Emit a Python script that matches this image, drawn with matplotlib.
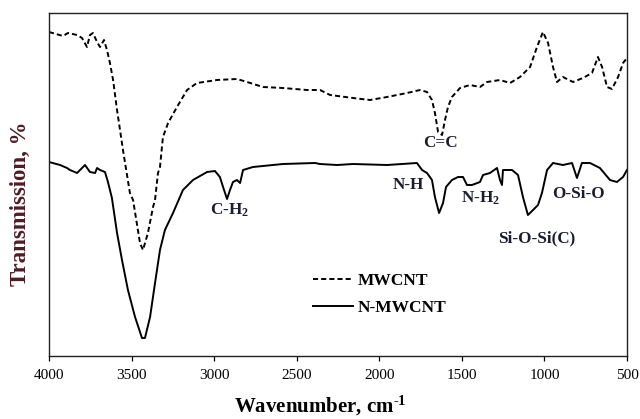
import matplotlib
matplotlib.use("Agg")
import matplotlib.pyplot as plt

plt.rcParams['font.family'] = ['Liberation Serif', 'DejaVu Serif']
plt.rcParams['mathtext.fontset'] = 'custom'
plt.rcParams['mathtext.rm'] = 'Liberation Serif:bold'
plt.rcParams['mathtext.it'] = 'Liberation Serif:bold'
plt.rcParams['mathtext.bf'] = 'Liberation Serif:bold'

# MWCNT spectrum (wavenumber, cm-1 ; transmission, arbitrary units)
mwcnt_wn = [4000, 3915, 3885, 3830, 3800, 3770, 3752, 3734, 3709, 3691, 3667, 3649,
            3631, 3612, 3588, 3552, 3510, 3491, 3449, 3431, 3401, 3370, 3358, 3340,
            3328, 3310, 3279, 3225, 3164, 3104, 2983, 2862, 2801, 2704, 2583, 2438,
            2377, 2359, 2298, 2159, 2056, 1953, 1832, 1753, 1711, 1681, 1663, 1644,
            1620, 1602, 1584, 1560, 1511, 1451, 1390, 1348, 1269, 1208, 1148, 1087,
            1045, 1009, 978, 948, 924, 888, 827, 767, 712, 676, 651, 621, 591, 554,
            524, 500]
mwcnt_t = [324, 320, 323, 321, 318, 309, 321, 323, 314, 309, 316, 306,
           293, 276, 246, 206, 163, 156, 113, 106, 123, 149, 156, 183,
           189, 219, 233, 249, 266, 273, 276, 277, 274, 269, 268, 266,
           266, 266, 261, 258, 256, 259, 263, 266, 264, 256, 243, 224,
           221, 236, 249, 259, 268, 271, 269, 274, 276, 273, 279, 289,
           309, 324, 313, 289, 274, 279, 274, 278, 283, 299, 289, 269, 267, 279,
           293, 298]

# N-MWCNT spectrum
nmwcnt_wn = [4000, 3933, 3891, 3873, 3830, 3794, 3782, 3752, 3721, 3709, 3691, 3661,
             3643, 3619, 3588, 3558, 3522, 3479, 3437, 3419, 3388, 3358, 3328, 3298,
             3249, 3189, 3128, 3043, 2995, 2965, 2946, 2922, 2904, 2886, 2862, 2843,
             2825, 2765, 2583, 2389, 2359, 2256, 2159, 1953, 1772, 1741, 1711, 1681,
             1663, 1638, 1614, 1596, 1560, 1523, 1493, 1469, 1439, 1390, 1372, 1330,
             1287, 1269, 1257, 1251, 1196, 1160, 1130, 1100, 1069, 1039, 1015, 984,
             948, 888, 833, 803, 773, 724, 664, 603, 561, 524, 500]
nmwcnt_t = [194, 191, 188, 186, 183, 189, 191, 184, 183, 188, 186, 184,
            174, 158, 123, 96, 66, 39, 18, 18, 39, 73, 106, 126,
            143, 166, 176, 184, 185, 179, 169, 157, 166, 174, 176, 173,
            186, 189, 192, 193, 192, 191, 192, 191, 193, 186, 183, 176,
            159, 143, 153, 169, 176, 179, 179, 171, 171, 174, 181, 183,
            188, 176, 171, 186, 186, 181, 159, 141, 146, 151, 163, 186,
            193, 191, 193, 178, 193, 193, 188, 176, 174, 179, 186]

series_names = ['MWCNT', 'N-MWCNT']
x_ticks = [4000, 3500, 3000, 2500, 2000, 1500, 1000, 500]

# band annotations: (text, wavenumber, height)
band_labels = ['C=C', 'C-H$_2$', 'N-H', 'N-H$_2$', 'Si-O-Si(C)', 'O-Si-O']
band_wn = [1632, 2904, 1826, 1384, 1045, 797]
band_t = [213, 146, 171, 158, 118, 162]

fig = plt.figure(figsize=(6.4, 4.19), dpi=100)
ax = fig.add_axes([49/640, 1-356/419, (627-49)/640, (356-13)/419])

l1, = ax.plot(mwcnt_wn, mwcnt_t, color='black', lw=1.4, linestyle=(0, (2.6, 1.6)))
l2, = ax.plot(nmwcnt_wn, nmwcnt_t, color='black', lw=1.4)

ax.set_xlim(4000, 500)
ax.set_ylim(0, 343)
ax.set_xticks(x_ticks)
ax.set_xticklabels([str(v) for v in x_ticks])
ax.tick_params(axis='x', direction='out', length=3.6, width=0.9, labelsize=11, pad=6)
ax.set_yticks([])
for s in ax.spines.values():
    s.set_linewidth(1.0)
    s.set_color('#222222')

ax.set_xlabel('Wavenumber, cm$^{\\text{-}1}$', fontsize=15, fontweight='bold')
ax.xaxis.set_label_coords((320-49)/578, (356-394)/343)
ax.set_ylabel('Transmission, %', fontsize=16.5, fontweight='bold', color='#4f1c26')
ax.yaxis.set_label_coords((31-49)/578, (356-204)/343)

for t, w, y in zip(band_labels, band_wn, band_t):
    ax.text(w, y, t, ha='center', va='center', fontsize=12.3, fontweight='bold', color='#1c1c30')

leg = ax.legend([l1, l2], series_names, loc='upper left',
                bbox_to_anchor=(313/640, 1-273/419), bbox_transform=fig.transFigure,
                frameon=False, borderpad=0, borderaxespad=0, handlelength=2.3,
                handletextpad=0.3, labelspacing=0.62,
                prop={'family': 'Liberation Serif', 'weight': 'bold', 'size': 12.5})

fig.savefig('out.png', dpi=100)
